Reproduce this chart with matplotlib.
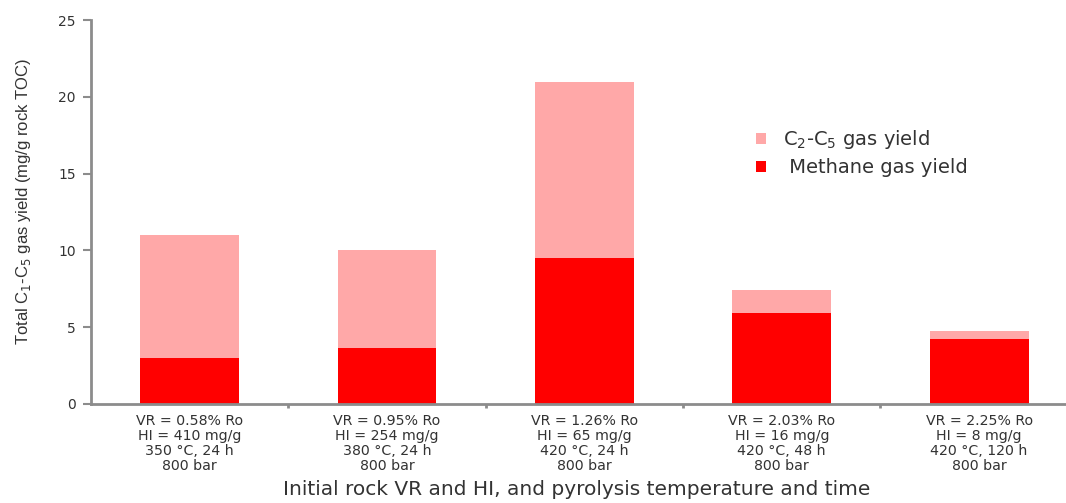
import matplotlib
matplotlib.use("Agg")
import matplotlib.pyplot as plt
from matplotlib.patches import Patch

categories = [
    "VR = 0.58% Ro\nHI = 410 mg/g\n350 °C, 24 h\n800 bar",
    "VR = 0.95% Ro\nHI = 254 mg/g\n380 °C, 24 h\n800 bar",
    "VR = 1.26% Ro\nHI = 65 mg/g\n420 °C, 24 h\n800 bar",
    "VR = 2.03% Ro\nHI = 16 mg/g\n420 °C, 48 h\n800 bar",
    "VR = 2.25% Ro\nHI = 8 mg/g\n420 °C, 120 h\n800 bar",
]
methane = [3.0, 3.65, 9.5, 5.9, 4.2]
total = [11.0, 10.0, 21.0, 7.4, 4.75]
c2c5 = [t - m for t, m in zip(total, methane)]
yticks = [0, 5, 10, 15, 20, 25]

PINK = "#ffa8a8"
RED = "#ff0000"
GREY = "#8c8c8c"
TXT = "#333333"

fig = plt.figure(figsize=(10.66, 5.03), dpi=100)
ax = fig.add_axes([0.0854, 0.197, 0.9146, 0.763])

x = list(range(len(categories)))
ax.bar(x, methane, width=0.5, color=RED, linewidth=0)
ax.bar(x, c2c5, width=0.5, bottom=methane, color=PINK, linewidth=0)

ax.set_xlim(-0.5, 4.44)
ax.set_ylim(0, 25)
ax.set_yticks(yticks)
ax.set_yticklabels([str(v) for v in yticks], fontsize=10, color=TXT,
                   family="DejaVu Sans")
ax.set_xticks([i + 0.5 for i in range(4)])
ax.set_xticklabels([])
ax.tick_params(axis="y", length=6, width=1.5, color=GREY, pad=5)
ax.tick_params(axis="x", length=3, width=2, color=GREY)

for s in ["top", "right"]:
    ax.spines[s].set_visible(False)
for s in ["left", "bottom"]:
    ax.spines[s].set_color(GREY)
    ax.spines[s].set_linewidth(2)

# multi-line category labels under each bar
for i, lab in enumerate(categories):
    ax.text(i, -0.65, lab, ha="center", va="top", fontsize=10.2, color=TXT,
            linespacing=1.08, family="DejaVu Sans")

fig.text(0.541, 0.008, "Initial rock VR and HI, and pyrolysis temperature and time",
         ha="center", va="bottom", fontsize=14.5, color=TXT, family="DejaVu Sans")
fig.text(0.022, 0.60, "Total C$_1$-C$_5$ gas yield (mg/g rock TOC)", rotation=90,
         ha="center", va="center", fontsize=12, color=TXT,
         family="Liberation Sans")

handles = [Patch(color=PINK, linewidth=0), Patch(color=RED, linewidth=0)]
fig.legend(handles, ["C$_2$-C$_5$ gas yield", " Methane gas yield"],
           loc="upper left", bbox_to_anchor=(0.693, 0.78), frameon=False,
           fontsize=14, handlelength=0.5, handleheight=0.5, handletextpad=0.9,
           labelspacing=0.35, labelcolor=TXT)

fig.savefig("out.png", dpi=100)
